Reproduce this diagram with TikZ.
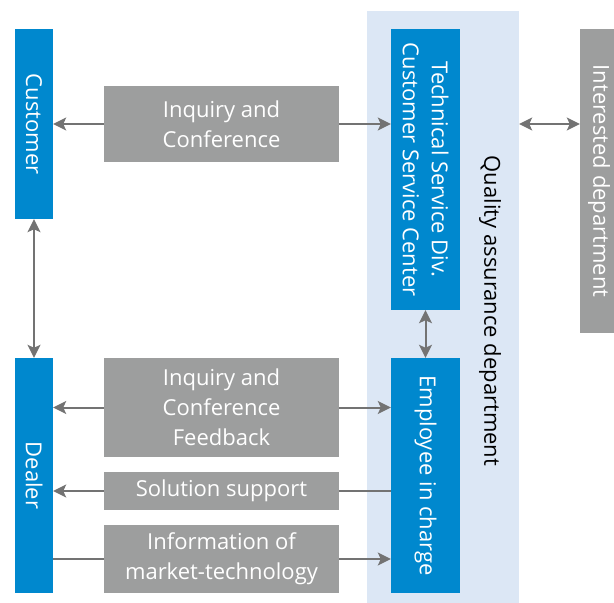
\documentclass[tikz,border=0pt]{standalone}
\usepackage{fontspec}
\setmainfont{Open Sans}
\usepackage{tikz}
\usetikzlibrary{arrows.meta, positioning, calc}
\definecolor{BoxBlue}{HTML}{0088CE}
\definecolor{BoxGray}{HTML}{9D9E9E}
\definecolor{PanelBlue}{HTML}{DCE7F5}
\definecolor{ArrowGray}{HTML}{737373}
\tikzset{
  % Box styles
  partybox/.style={rectangle, fill=BoxBlue, text=white, inner sep=0pt, rotate=-90, font=\fontsize{22}{29}\selectfont, align=center},
  deptbox/.style={rectangle, fill=BoxGray, text=white, inner sep=0pt, rotate=-90, font=\fontsize{22}{29}\selectfont, align=center},
  infobox/.style={rectangle, fill=BoxGray, text=white, inner sep=0pt, minimum width=235pt, font=\fontsize{22}{30}\selectfont, align=center},
  panelbox/.style={rectangle, fill=PanelBlue, inner sep=0pt},
  % Arrow styles
  arrow/.style={-{Stealth[length=13pt, width=13pt, inset=3pt]}, line width=2pt, ArrowGray},
  dblarrow/.style={{Stealth[length=13pt, width=13pt, inset=3pt]}-{Stealth[length=13pt, width=13pt, inset=3pt]}, line width=2pt, ArrowGray},
  plainline/.style={line width=2pt, ArrowGray}
}

\begin{document}
\begin{tikzpicture}[x=1pt, y=1pt]
  \useasboundingbox (0,0) rectangle (614,-603);
  \clip (0,0) rectangle (614,-603);

  % Quality assurance panel
  \node[panelbox, minimum width=152pt, minimum height=592pt] (qa) at (443,-307) {};
  \node[rotate=-90, font=\fontsize{22}{29}\selectfont] (qalabel) at (490,-311) {Quality assurance department};

  % Parties
  \node[partybox, minimum width=190pt, minimum height=38pt] (cust) at (34,-124) {Customer};
  \node[partybox, minimum width=235pt, minimum height=38pt] (dealer) at (34,-475.5) {Dealer};
  \node[partybox, minimum width=281pt, minimum height=69pt] (tech) at (425.5,-169.5) {Technical Service Div.\\Customer Service Center};
  \node[partybox, minimum width=235pt, minimum height=69pt] (emp) at (425.5,-475.5) {Employee in charge};
  \node[deptbox, minimum width=304pt, minimum height=38pt] (intdep) at (599,-181) {Interested department};

  % Information flows
  \node[infobox, minimum height=76pt] (inq1) at (221.5,-124) {Inquiry and\\Conference};
  \node[infobox, minimum height=99pt] (inq2) at (221.5,-407.5) {Inquiry and\\Conference\\Feedback};
  \node[infobox, minimum height=38pt] (sol) at (221.5,-491) {Solution support};
  \node[infobox, minimum height=68pt] (info) at (221.5,-559) {Information of\\market-technology};

  % Arrows
  \draw[dblarrow] (cust.east) -- (dealer.west);
  \draw[arrow] (inq1.west) -- (inq1.west -| cust.north);
  \draw[arrow] (inq1.east) -- (inq1.east -| tech.south);
  \draw[dblarrow] (qa.east |- inq1) -- (inq1 -| intdep.south);
  \draw[dblarrow] (tech.east) -- (emp.west);
  \draw[arrow] (inq2.west) -- (inq2.west -| dealer.north);
  \draw[arrow] (inq2.east) -- (inq2.east -| emp.south);
  \draw[plainline] (sol.east -| emp.south) -- (sol.east);
  \draw[arrow] (sol.west) -- (sol.west -| dealer.north);
  \draw[plainline] (info.west -| dealer.north) -- (info.west);
  \draw[arrow] (info.east) -- (info.east -| emp.south);
\end{tikzpicture}
\end{document}
